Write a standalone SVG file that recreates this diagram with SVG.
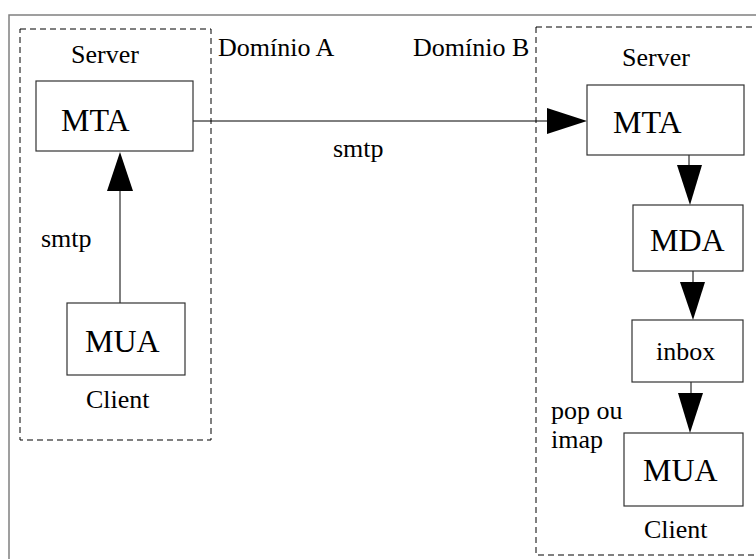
<svg xmlns="http://www.w3.org/2000/svg" width="756" height="559" viewBox="0 0 756 559">
<style>
.frame{fill:none;stroke:#808080;stroke-width:1.5}
.dom{fill:none;stroke:#000;stroke-width:1;stroke-dasharray:6,4}
.box{fill:#fff;stroke:#333;stroke-width:1.2}
.ln{fill:none;stroke:#000;stroke-width:1}
.hd{fill:#000;stroke:none}
text{font-family:"Liberation Serif","Times New Roman",serif;fill:#000}
.lbl{font-size:26px}
.big{font-size:32px}
</style>
<rect x="0" y="0" width="756" height="559" fill="#fff"/>
<rect class="frame" x="9" y="15" width="800" height="600"/>
<g id="domainA">
<rect class="dom" x="20" y="29" width="191" height="411"/>
<text class="lbl" x="218" y="56">Domínio A</text>
<text class="lbl" x="71" y="63">Server</text>
<text class="lbl" x="86" y="408">Client</text>
</g>
<g id="domainB">
<rect class="dom" x="536" y="27" width="300" height="528"/>
<text class="lbl" x="413" y="56">Domínio B</text>
<text class="lbl" x="622" y="66">Server</text>
<text class="lbl" x="644" y="538">Client</text>
</g>
<g id="connectors">
<line class="ln" x1="193" y1="121" x2="548" y2="121"/>
<polygon class="hd" points="547,108 587,121 547,134"/>
<line class="ln" x1="120" y1="303" x2="120" y2="190"/>
<polygon class="hd" points="107,191 120,152 133,191"/>
<line class="ln" x1="689" y1="155" x2="689" y2="166"/>
<polygon class="hd" points="677,165 702,165 690,205"/>
<line class="ln" x1="693" y1="271" x2="693" y2="283"/>
<polygon class="hd" points="680,282 705,282 693,320"/>
<line class="ln" x1="691" y1="382" x2="691" y2="394"/>
<polygon class="hd" points="678,393 703,393 690,433"/>
<text class="lbl" x="41" y="247">smtp</text>
<text class="lbl" x="333" y="157">smtp</text>
<text class="lbl" x="551" y="419">pop ou</text>
<text class="lbl" x="551" y="448">imap</text>
</g>
<g id="mtaA">
<rect class="box" x="36" y="81" width="157" height="70"/>
<text class="big" x="61" y="131">MTA</text>
</g>
<g id="muaA">
<rect class="box" x="67" y="303" width="118" height="72"/>
<text class="big" x="85" y="352">MUA</text>
</g>
<g id="mtaB">
<rect class="box" x="587" y="85" width="157" height="70"/>
<text class="big" x="613" y="133">MTA</text>
</g>
<g id="mda">
<rect class="box" x="633" y="205" width="110" height="66"/>
<text class="big" x="650" y="251">MDA</text>
</g>
<g id="inbox">
<rect class="box" x="632" y="320" width="111" height="62"/>
<text class="lbl" x="656" y="360">inbox</text>
</g>
<g id="muaB">
<rect class="box" x="624" y="433" width="119" height="73"/>
<text class="big" x="643" y="481">MUA</text>
</g>
</svg>
